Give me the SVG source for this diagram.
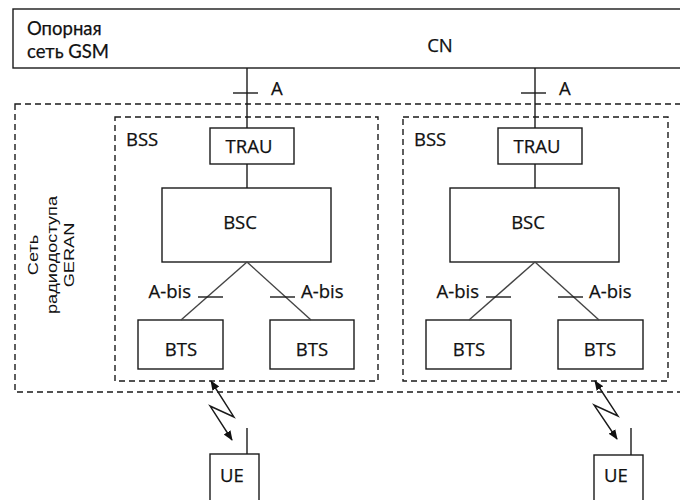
<svg xmlns="http://www.w3.org/2000/svg" width="680" height="500" viewBox="0 0 680 500">
  <style>
    .box { fill: #fff; stroke: #1a1a1a; stroke-width: 1.4; }
    .dash { fill: none; stroke: #1a1a1a; stroke-width: 1.4; stroke-dasharray: 6 4; }
    .wire { fill: none; stroke: #1a1a1a; stroke-width: 1.4; }
    .diag { fill: none; stroke: #444; stroke-width: 1.4; }
    .t { font-family: "Open Sans", "Liberation Sans", sans-serif; font-size: 18.5px; fill: #111; stroke: #111; stroke-width: 0.25; }
    .core { font-family: Lato, "Open Sans", sans-serif; font-size: 18.5px; fill: #111; stroke: #111; stroke-width: 0.25; }
    .m { text-anchor: middle; }
    .geran { font-family: "Liberation Sans", Arial, sans-serif; font-size: 14px; fill: #111; text-anchor: middle; }
  </style>
  <defs>
    <marker id="tip" viewBox="0 0 10 10" refX="9" refY="5" markerWidth="10" markerHeight="10" orient="auto-start-reverse" markerUnits="userSpaceOnUse">
      <path d="M0,1 L10,5 L0,9 Z" fill="#111"/>
    </marker>
  </defs>

  <rect width="680" height="500" fill="#fff"/>

  <!-- core network -->
  <g id="cn">
    <rect class="box" x="13" y="9" width="680" height="59"/>
    <text class="core" x="27" y="35">Опорная</text>
    <text class="core" x="27" y="58">сеть GSM</text>
    <text class="t m" x="440" y="52">CN</text>
  </g>

  <!-- radio access network -->
  <g id="geran">
    <rect class="dash" x="15" y="104" width="680" height="288"/>
    <text class="geran" transform="translate(0,255) rotate(-90) scale(1.3,1)"><tspan x="0" y="38">Сеть</tspan><tspan x="0" y="57">радиодоступа</tspan><tspan x="0" y="74">GERAN</tspan></text>
  </g>

  <!-- left subsystem -->
  <g id="bss1">
    <rect class="dash" x="115" y="117" width="263" height="264"/>
    <text class="t" x="126" y="146">BSS</text>
  </g>
  <g id="trau1">
    <rect class="box" x="210" y="128" width="84" height="36"/>
    <text class="t m" x="249" y="153">TRAU</text>
  </g>
  <g id="bsc1">
    <rect class="box" x="162" y="188" width="169" height="74"/>
    <text class="t m" x="240" y="229">BSC</text>
  </g>
  <g id="bts1a">
    <rect class="box" x="138" y="320" width="85" height="49"/>
    <text class="t m" x="181" y="356">BTS</text>
  </g>
  <g id="bts1b">
    <rect class="box" x="270" y="320" width="84" height="49"/>
    <text class="t m" x="312" y="356">BTS</text>
  </g>

  <!-- right subsystem -->
  <g id="bss2">
    <rect class="dash" x="403" y="117" width="265" height="264"/>
    <text class="t" x="414" y="146">BSS</text>
  </g>
  <g id="trau2">
    <rect class="box" x="498" y="128" width="84" height="36"/>
    <text class="t m" x="537" y="153">TRAU</text>
  </g>
  <g id="bsc2">
    <rect class="box" x="450" y="188" width="169" height="74"/>
    <text class="t m" x="528" y="229">BSC</text>
  </g>
  <g id="bts2a">
    <rect class="box" x="426" y="320" width="85" height="49"/>
    <text class="t m" x="469" y="356">BTS</text>
  </g>
  <g id="bts2b">
    <rect class="box" x="558" y="320" width="85" height="49"/>
    <text class="t m" x="600" y="356">BTS</text>
  </g>

  <!-- mobile stations -->
  <g id="ue1">
    <rect class="box" x="210" y="454" width="49" height="60"/>
    <text class="t m" x="232" y="482">UE</text>
  </g>
  <g id="ue2">
    <rect class="box" x="594" y="455" width="49" height="60"/>
    <text class="t m" x="616" y="482">UE</text>
  </g>

  <!-- links and interface labels -->
  <g id="connectors">
    <!-- A interface -->
    <line class="wire" x1="247" y1="68" x2="247" y2="128"/>
    <line class="wire" x1="233" y1="93" x2="258" y2="93"/>
    <text class="t" x="271" y="95">A</text>
    <line class="wire" x1="535" y1="68" x2="535" y2="128"/>
    <line class="wire" x1="521" y1="93" x2="546" y2="93"/>
    <text class="t" x="559" y="95">A</text>

    <!-- TRAU to BSC -->
    <line class="wire" x1="247" y1="164" x2="247" y2="188"/>
    <line class="wire" x1="535" y1="164" x2="535" y2="188"/>

    <!-- A-bis -->
    <line class="diag" x1="247" y1="262" x2="181" y2="320"/>
    <line class="diag" x1="247" y1="262" x2="311" y2="320"/>
    <line class="wire" x1="198" y1="297" x2="223" y2="297"/>
    <line class="wire" x1="270" y1="297" x2="295" y2="297"/>
    <text class="t" x="191" y="298" text-anchor="end">A-bis</text>
    <text class="t" x="301" y="298">A-bis</text>

    <line class="diag" x1="535" y1="262" x2="469" y2="320"/>
    <line class="diag" x1="535" y1="262" x2="599" y2="320"/>
    <line class="wire" x1="486" y1="297" x2="511" y2="297"/>
    <line class="wire" x1="558" y1="297" x2="583" y2="297"/>
    <text class="t" x="479" y="298" text-anchor="end">A-bis</text>
    <text class="t" x="589" y="298">A-bis</text>

    <!-- radio links -->
    <polyline class="wire" points="211,381 234,417 210,406 232,440" marker-start="url(#tip)" marker-end="url(#tip)"/>
    <line class="wire" x1="247" y1="428" x2="247" y2="454"/>
    <polyline class="wire" points="595,381 618,416 594,405 617,439" marker-start="url(#tip)" marker-end="url(#tip)"/>
    <line class="wire" x1="631" y1="428" x2="631" y2="455"/>
  </g>
</svg>
